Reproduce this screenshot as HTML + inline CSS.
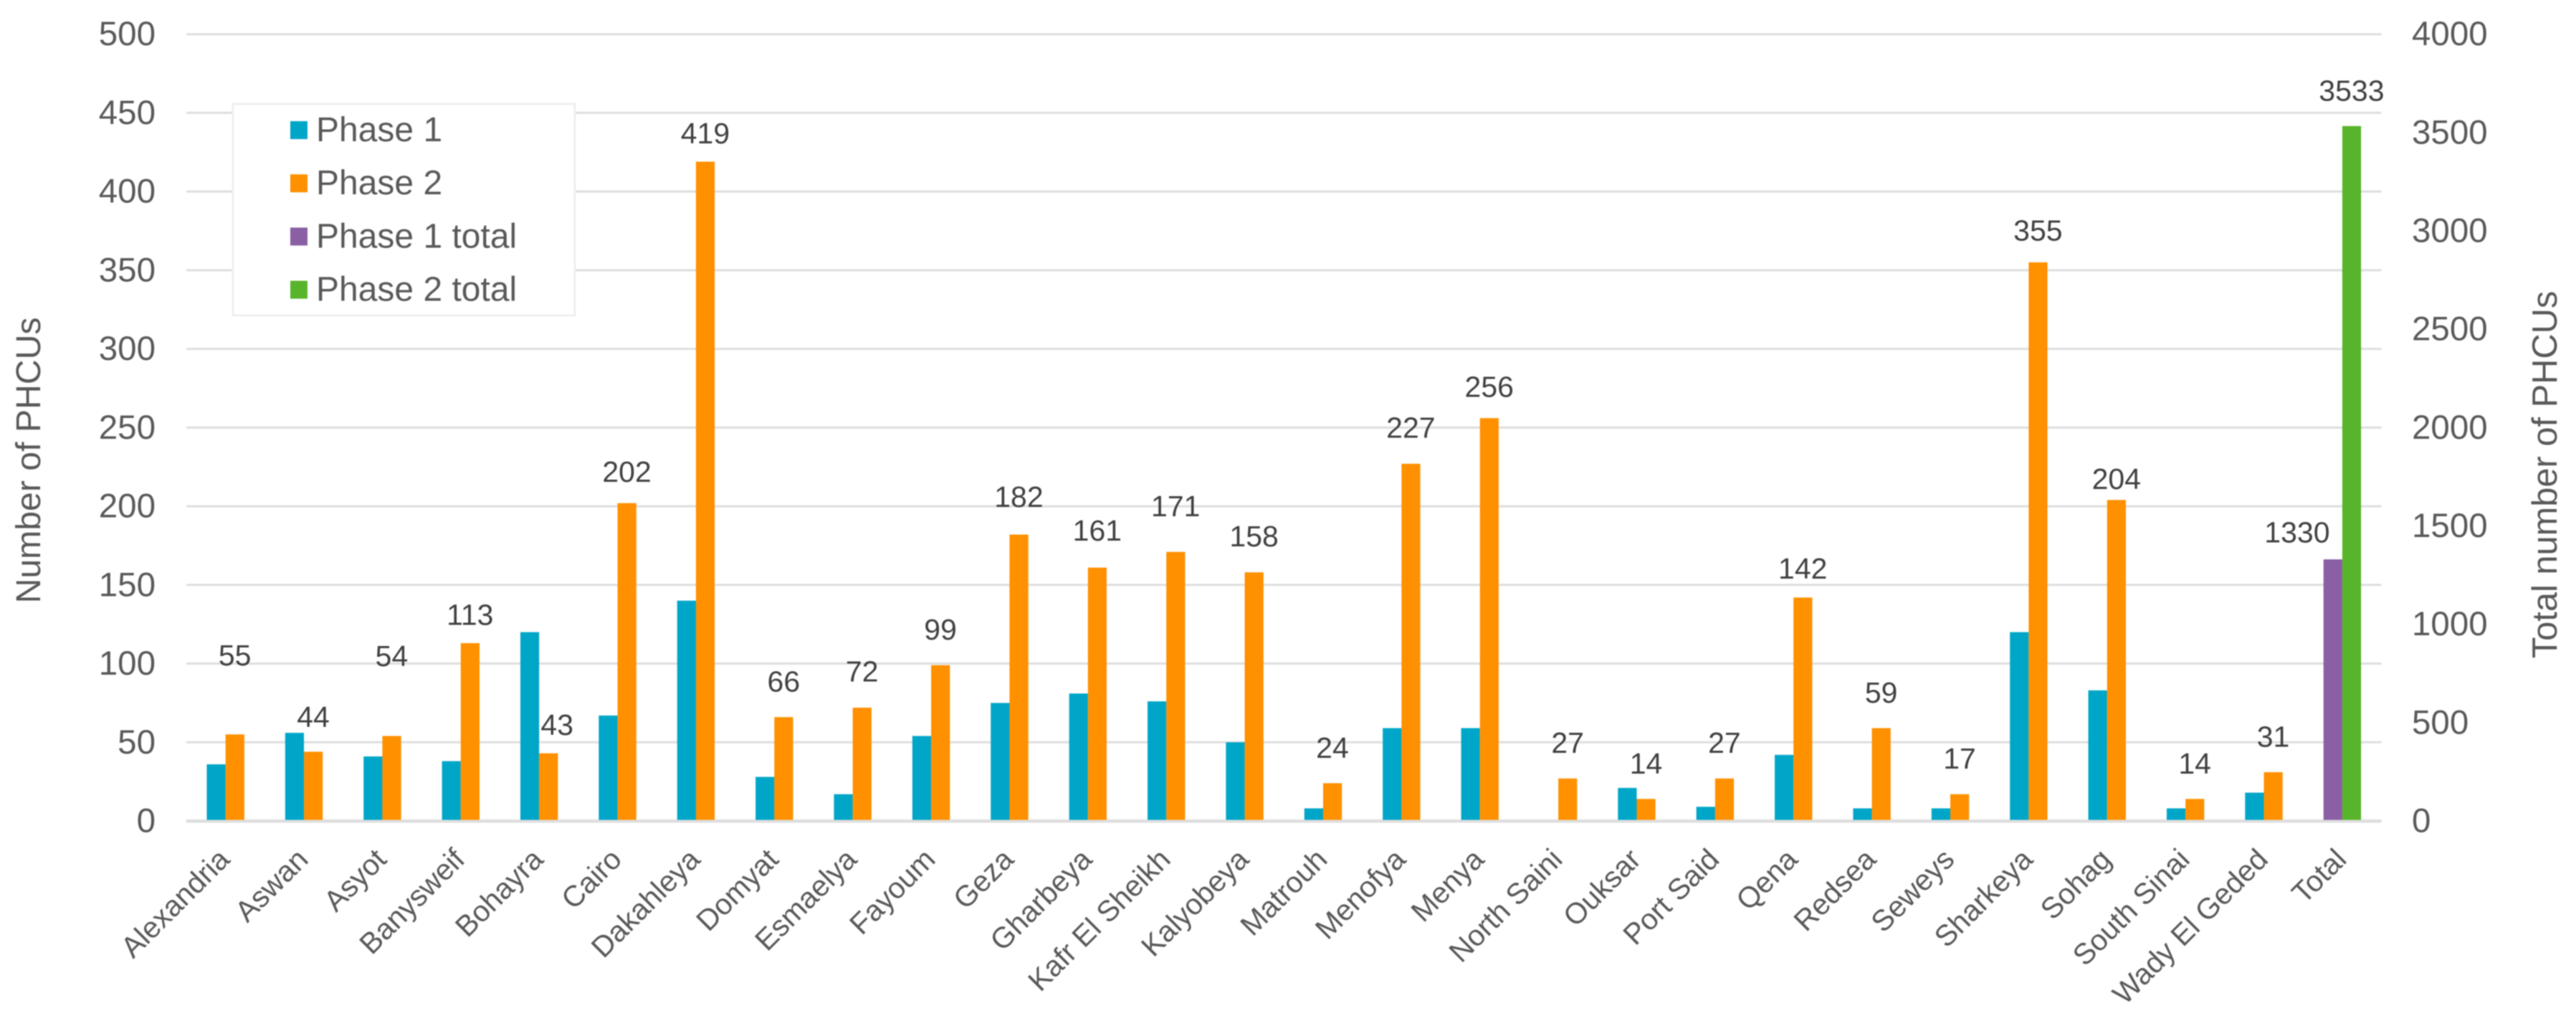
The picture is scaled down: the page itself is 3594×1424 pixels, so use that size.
<!DOCTYPE html>
<html>
<head>
<meta charset="utf-8">
<title>PHCUs by governorate</title>
<style>
html,body{margin:0;padding:0;background:#fff;}
svg{display:block;filter:blur(0.7px);}
text{font-family:"Liberation Sans",sans-serif;}
</style>
</head>
<body>
<svg id="chart" xmlns="http://www.w3.org/2000/svg" width="3594" height="1424" viewBox="0 0 3594 1424"></svg>
<script>
var categories = ["Alexandria","Aswan","Asyot","Banysweif","Bohayra","Cairo","Dakahleya","Domyat","Esmaelya","Fayoum","Geza","Gharbeya","Kafr El Sheikh","Kalyobeya","Matrouh","Menofya","Menya","North Saini","Ouksar","Port Said","Qena","Redsea","Seweys","Sharkeya","Sohag","South Sinai","Wady El Geded","Total"];
var phase1 = [36,56,41,38,120,67,140,28,17,54,75,81,76,50,8,59,59,0,21,9,42,8,8,120,83,8,18];
var phase2 = [55,44,54,113,43,202,419,66,72,99,182,161,171,158,24,227,256,27,14,27,142,59,17,355,204,14,31];
var phase1Total = [1330];
var phase2Total = [3533];
var leftTicks = [0,50,100,150,200,250,300,350,400,450,500];
var rightTicks = [0,500,1000,1500,2000,2500,3000,3500,4000];
var legendLabels = ["Phase 1","Phase 2","Phase 1 total","Phase 2 total"];

(function(){
  var svg = document.getElementById('chart');
  var NS = 'http://www.w3.org/2000/svg';
  var plotL = 260, plotR = 3322.6, plotT = 47.7, plotB = 1145;
  var barW = 26.2;
  var TEAL = '#00a6c8', ORANGE = '#ff9000', PURPLE = '#8a5fa4', GREEN = '#58b42a';
  var TXT = '#595959', LBL = '#404040', GRID = '#dedede';
  var step = (plotR - plotL) / categories.length;

  function xCenter(i){ return plotL + (i + 0.5) * step; }
  function yLeft(v){ return plotB - (v / 500) * (plotB - plotT); }
  function yRight(v){ return plotB - (v / 4000) * (plotB - plotT); }

  function make(tag, attrs, text){
    var el = document.createElementNS(NS, tag);
    for (var k in attrs) el.setAttribute(k, attrs[k]);
    if (text !== undefined) el.textContent = text;
    svg.appendChild(el);
    return el;
  }

  // gridlines
  leftTicks.forEach(function(t){
    var line = make('line', {x1:plotL, x2:plotR, y1:yLeft(t), y2:yLeft(t), stroke:GRID, 'stroke-width': t === 0 ? 4 : 3});
    
    
  });

  // left ticks
  leftTicks.forEach(function(t){
    var tx = make('text', {x:217, y:yLeft(t)+15.5, 'text-anchor':'end', 'font-size':47.5, fill:TXT}, String(t));
    
    
  });

  // right ticks
  rightTicks.forEach(function(t){
    var tx = make('text', {x:3365, y:yRight(t)+15.5, 'text-anchor':'start', 'font-size':47.5, fill:TXT}, String(t));
    
    
  });

  // bars
  phase1.forEach(function(v, i){
    var yy = yLeft(v);
    var r = make('rect', {x:xCenter(i)-barW, y:yy, width:barW, height:plotB-yy, fill:TEAL});
    
    
  });
  phase2.forEach(function(v, i){
    var yy = yLeft(v);
    var r = make('rect', {x:xCenter(i), y:yy, width:barW, height:plotB-yy, fill:ORANGE});
    
    
  });
  var totalIndex = categories.length - 1;
  phase1Total.forEach(function(v){
    var yy = yRight(v);
    var r = make('rect', {x:xCenter(totalIndex)-barW, y:yy, width:barW, height:plotB-yy, fill:PURPLE});
    
    
  });
  phase2Total.forEach(function(v){
    var yy = yRight(v);
    var r = make('rect', {x:xCenter(totalIndex), y:yy, width:barW, height:plotB-yy, fill:GREEN});
    
    
  });

  // baseline over the bar feet
  var base = make('line', {x1:plotL, x2:plotR, y1:plotB+0.5, y2:plotB+0.5, stroke:GRID, 'stroke-width':4});
  
  

  // data labels: the lift above each bar top follows the hand placement in the source chart
  var lift = [111,49,112,40,40,44,40,50,51,50,53,52,64,51,50,51,44,50,50,50,41,50,50,45,30,50,50];
  phase2.forEach(function(v, i){
    var nudge = i === 4 ? 12 : 0;
    var tx = make('text', {x:xCenter(i)+13+nudge, y:yLeft(v)-lift[i]+14.5, 'text-anchor':'middle', 'font-size':41, fill:LBL}, String(v));
    
    
  });
  phase1Total.forEach(function(v){
    var tx = make('text', {x:xCenter(totalIndex)-63, y:yRight(v)-38+14.5, 'text-anchor':'middle', 'font-size':41, fill:LBL}, String(v));
    
    
  });
  phase2Total.forEach(function(v){
    var tx = make('text', {x:xCenter(totalIndex)+13, y:yRight(v)-50+14.5, 'text-anchor':'middle', 'font-size':41, fill:LBL}, String(v));
    
    
  });

  // category labels
  categories.forEach(function(c, i){
    var ex = xCenter(i) + 8, ey = 1201;
    var tx = make('text', {x:ex, y:ey, 'text-anchor':'end', 'font-size':41, fill:TXT, transform:'rotate(-45 '+ex+' '+ey+')'}, c);
    
    
  });

  // axis titles
  var ly = make('text', {x:56, y:642, 'text-anchor':'middle', 'font-size':48.2, fill:TXT, transform:'rotate(-90 56 642)'}, 'Number of PHCUs');
  
  
  var ry = make('text', {x:3567, y:662, 'text-anchor':'middle', 'font-size':48.8, fill:TXT, transform:'rotate(-90 3567 662)'}, 'Total number of PHCUs');
  
  

  // legend
  var box = make('rect', {x:325, y:145, width:477, height:295, fill:'#ffffff', stroke:'#efefef', 'stroke-width':3});
  
  
  var swatchColors = [TEAL, ORANGE, PURPLE, GREEN];
  legendLabels.forEach(function(l, i){
    var top = 169 + i * 74.2;
    var sw = make('rect', {x:405, y:top, width:24, height:25, fill:swatchColors[i]});
    
    
    var tx = make('text', {x:441, y:top+28, 'font-size':48, fill:TXT}, l);
    
    
  });
})();
</script>
</body>
</html>
